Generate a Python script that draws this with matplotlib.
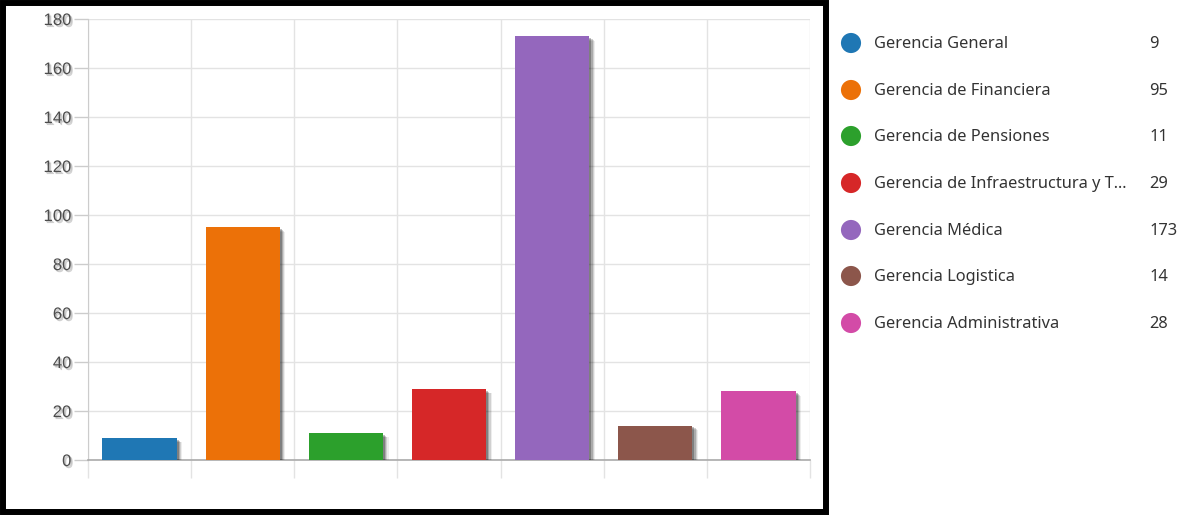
import matplotlib
matplotlib.use("Agg")
import matplotlib.pyplot as plt
import matplotlib.patheffects as pe
from matplotlib.patches import Rectangle

categories = [
    "Gerencia General",
    "Gerencia de Financiera",
    "Gerencia de Pensiones",
    "Gerencia de Infraestructura y T...",
    "Gerencia Médica",
    "Gerencia Logistica",
    "Gerencia Administrativa",
]
values = [9, 95, 11, 29, 173, 14, 28]
colors = ["#1f77b4", "#ec7108", "#2ca02c", "#d62728", "#9467bd", "#8c564b", "#d34ba7"]
y_ticks = [0, 20, 40, 60, 80, 100, 120, 140, 160, 180]

W, H = 1188, 516
fig = plt.figure(figsize=(W / 100, H / 100), dpi=100)
fig.patch.set_facecolor("white")

# main bar chart
ax = fig.add_axes([88 / W, 1 - 460 / H, (810 - 88) / W, (460 - 19) / H])
x = range(len(values))

shadow = [
    pe.SimplePatchShadow(offset=(4.0, -3.2), shadow_rgbFace="black", alpha=0.07),
    pe.SimplePatchShadow(offset=(3.2, -2.6), shadow_rgbFace="black", alpha=0.12),
    pe.SimplePatchShadow(offset=(2.4, -2.0), shadow_rgbFace="black", alpha=0.18),
    pe.SimplePatchShadow(offset=(1.4, -1.2), shadow_rgbFace="black", alpha=0.25),
    pe.Normal(),
]
bars = ax.bar(x, values, width=0.72, color=colors, zorder=3)
for b in bars:
    b.set_path_effects(shadow)

ax.set_xlim(-0.5, len(values) - 0.5)
ax.set_ylim(0, 180)
ax.set_yticks(y_ticks)
ax.set_xticks([i - 0.5 for i in range(len(values) + 1)])
ax.set_xticklabels([])

grid_col = "#e3e3e3"
ax.grid(True, color=grid_col, linewidth=1.0, zorder=0)
for s in ["top", "right"]:
    ax.spines[s].set_visible(False)
ax.spines["left"].set_color("#cccccc")
ax.spines["bottom"].set_color("#aaaaaa")
ax.spines["bottom"].set_linewidth(1.2)

ax.tick_params(axis="x", length=13, color=grid_col, width=1.0)
ax.tick_params(axis="y", length=10, color="#cccccc", width=1.0,
               labelsize=12, labelcolor="#4d4d4d", pad=2)
txt_shadow = [pe.SimplePatchShadow(offset=(1.5, -1.5), shadow_rgbFace="gray", alpha=0.35),
              pe.SimplePatchShadow(offset=(0.8, -0.8), shadow_rgbFace="gray", alpha=0.35),
              pe.Normal()]
for lbl in ax.get_yticklabels():
    lbl.set_path_effects(txt_shadow)
    lbl.set_family("Liberation Sans")

# overlay for frame and legend, in pixel coordinates
top = fig.add_axes([0, 0, 1, 1], zorder=10)
top.set_xlim(0, W)
top.set_ylim(H, 0)
top.axis("off")
top.patch.set_alpha(0)
top.add_patch(Rectangle((3, 3), 823, 509, fill=False, edgecolor="black", linewidth=4.3))

rows_y = [43, 90, 136, 183, 230, 276, 323]
for yy, name, val, c in zip(rows_y, categories, values, colors):
    top.scatter([851], [yy], s=210, color=c, edgecolors="none")
    top.text(874, yy + 1, name, fontsize=11.8, family="Noto Sans", color="#333333",
             va="center", ha="left")
    top.text(1149, yy + 1, str(val), fontsize=11.8, family="Noto Sans", color="#333333",
             va="center", ha="left")

fig.savefig("out.png", dpi=100)
